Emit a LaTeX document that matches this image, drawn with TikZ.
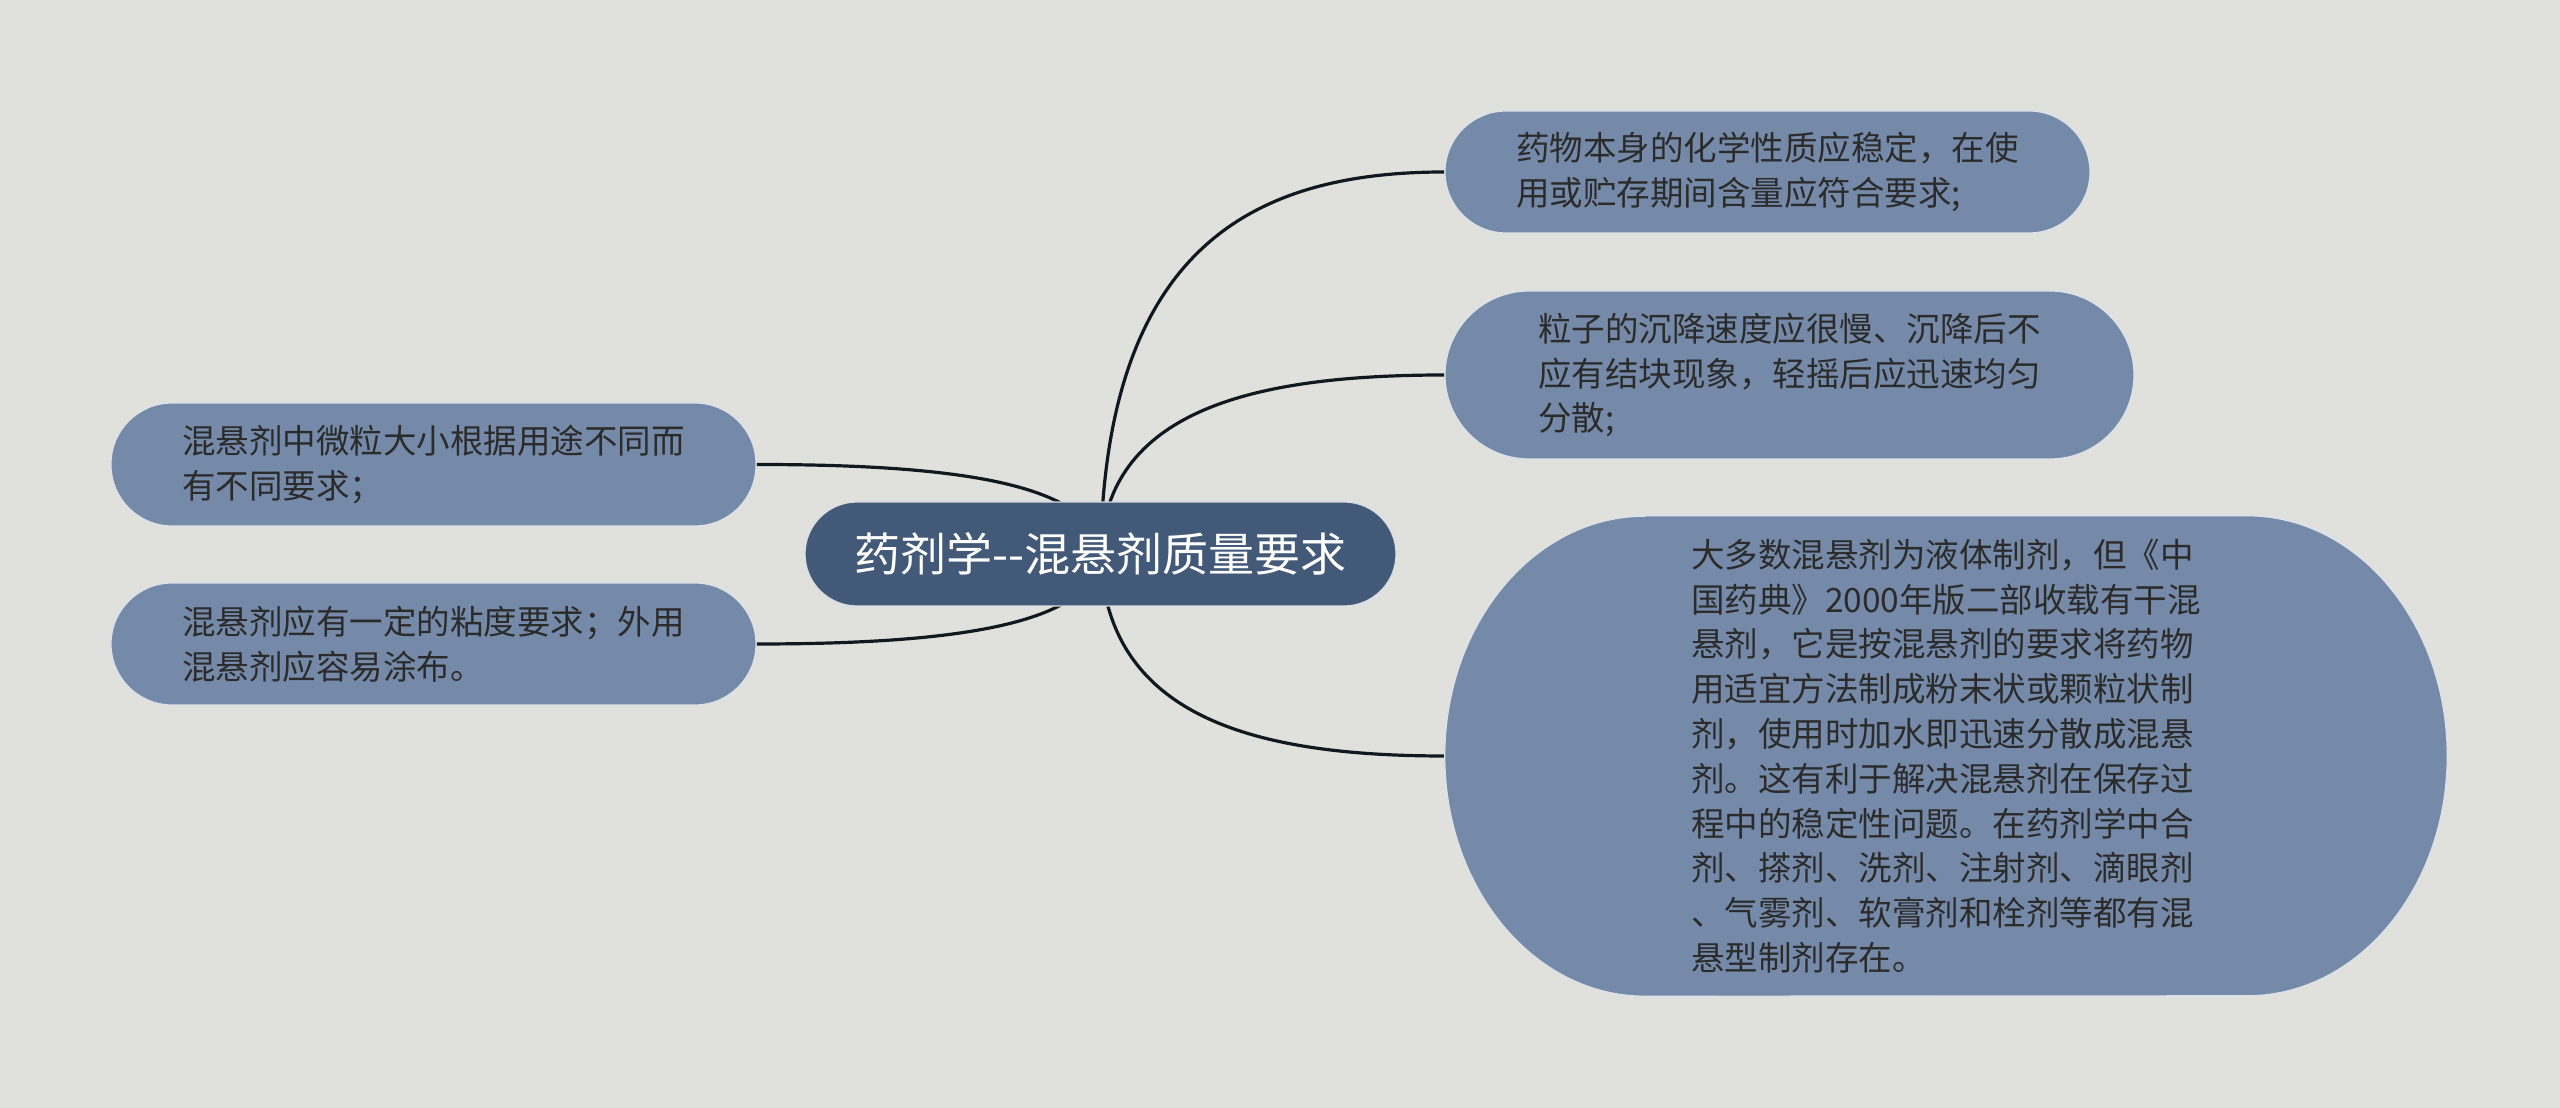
\documentclass[tikz,border=0pt]{standalone}
\usepackage{fontspec}
\setmainfont{Noto Sans CJK SC}
\usetikzlibrary{calc}
\definecolor{bgc}{HTML}{E0E1DD}
\definecolor{rootc}{HTML}{425978}
\definecolor{childc}{HTML}{758AA8}
\definecolor{txtc}{HTML}{2B2B2B}
\definecolor{linec}{HTML}{101820}
\pgfdeclarelayer{bglayer}
\pgfdeclarelayer{edges}
\pgfdeclarelayer{fills}
\pgfsetlayers{bglayer,edges,fills,main}
\begin{document}
\begin{tikzpicture}[x=1pt,y=1pt,
  rootbox/.style={fill=rootc,draw=white!80!rootc,line width=1.2pt,text=white,
    inner sep=0pt,align=center,font=\fontsize{46}{55}\selectfont},
  childbox/.style={fill=childc,draw=white!75!childc,line width=1.2pt,text=txtc,
    inner sep=0pt,align=left,font=\fontsize{33.5}{44.8}\selectfont},
  bigtext/.style={text=txtc,inner sep=0pt,align=left,font=\fontsize{33.5}{44.8}\selectfont},
  conn/.style={draw=linec,line width=3.2pt}]
\useasboundingbox (0,0) rectangle (2560,1108);
\begin{pgfonlayer}{bglayer}
\fill[bgc] (0,0) rectangle (2560,1108);
\end{pgfonlayer}

\node[rootbox,minimum width=591pt,minimum height=104pt,rounded corners=52pt] (c) at (1100.5,554) {药剂学-{}-混悬剂质量要求};

\node[childbox,minimum width=645pt,minimum height=122pt,rounded corners=61pt] (n1) at (1767.5,936)
  {药物本身的化学性质应稳定，在使\\用或贮存期间含量应符合要求;};
\node[childbox,minimum width=689pt,minimum height=168pt,rounded corners=84pt] (n2) at (1789.5,733)
  {粒子的沉降速度应很慢、沉降后不\\应有结块现象，轻摇后应迅速均匀\\分散;};
\node[bigtext,minimum width=1002pt,minimum height=480pt] (n3) at (1946,352)
  {大多数混悬剂为液体制剂，但《中\\国药典》2000年版二部收载有干混\\悬剂，它是按混悬剂的要求将药物\\用适宜方法制成粉末状或颗粒状制\\剂，使用时加水即迅速分散成混悬\\剂。这有利于解决混悬剂在保存过\\程中的稳定性问题。在药剂学中合\\剂、搽剂、洗剂、注射剂、滴眼剂\\、气雾剂、软膏剂和栓剂等都有混\\悬型制剂存在。};
\node[childbox,minimum width=645pt,minimum height=123pt,rounded corners=61pt] (a) at (433.5,643.5)
  {混悬剂中微粒大小根据用途不同而\\有不同要求；};
\node[childbox,minimum width=645pt,minimum height=122pt,rounded corners=61pt] (b) at (433.5,464)
  {混悬剂应有一定的粘度要求；外用\\混悬剂应容易涂布。};

\begin{pgfonlayer}{fills}
\filldraw[fill=childc,draw=white!75!childc,line width=1.2pt]
  ($(n3.north west)+(200,0)$) -- ($(n3.north east)+(-200,0)$)
  arc[start angle=90,end angle=-90,x radius=200,y radius=240]
  -- ($(n3.south west)+(200,0)$)
  arc[start angle=270,end angle=90,x radius=200,y radius=240] -- cycle;
\end{pgfonlayer}

\begin{pgfonlayer}{edges}
\draw[conn] (c.center) .. controls ($(c.center)+(5,305)$) and ($(n1.west)+(-193,0)$) .. (n1.west);
\draw[conn] (c.center) .. controls ($(c.center)+(5,143)$) and ($(n2.west)+(-193,0)$) .. (n2.west);
\draw[conn] (c.center) .. controls ($(c.center)+(5,-162)$) and ($(n3.west)+(-193,0)$) .. (n3.west);
\draw[conn] (c.center) .. controls ($(c.center)+(-5,72)$) and ($(a.east)+(193,0)$) .. (a.east);
\draw[conn] (c.center) .. controls ($(c.center)+(-5,-72)$) and ($(b.east)+(193,0)$) .. (b.east);
\end{pgfonlayer}
\end{tikzpicture}
\end{document}
